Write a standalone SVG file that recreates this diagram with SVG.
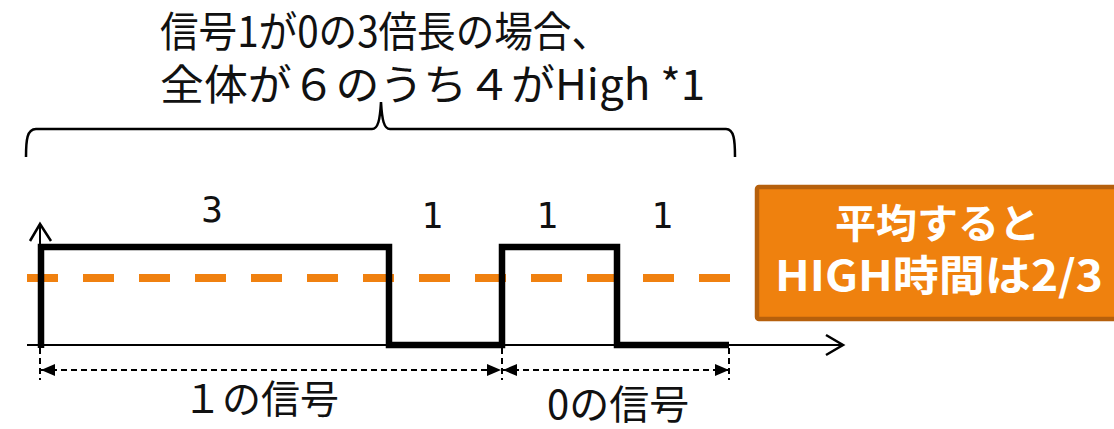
<svg xmlns="http://www.w3.org/2000/svg" width="1114" height="429" viewBox="0 0 1114 429">
<defs>
<style>
.jp{font-family:"Noto Sans CJK JP","Noto Sans",sans-serif;fill:#111;}
.num{font-family:"DejaVu Sans Mono","Liberation Mono",monospace;font-size:36px;fill:#111;text-anchor:middle;}
.wt{font-family:"Noto Sans CJK JP","Noto Sans",sans-serif;font-weight:bold;fill:#fff;}
.dim{stroke:#000;stroke-width:2;stroke-dasharray:6 4;fill:none;}
</style>
<marker id="fa" viewBox="0 0 14 12" refX="14" refY="6" markerWidth="14" markerHeight="12" markerUnits="userSpaceOnUse" orient="auto-start-reverse">
<path d="M0,0 L14,6 L0,12 Z" fill="#000"/>
</marker>
</defs>
<rect width="1114" height="429" fill="#fff"/>
<g id="title">
<text class="jp" x="160" y="47" font-size="42" textLength="450" lengthAdjust="spacingAndGlyphs">信号1が0の3倍長の場合、</text>
<text class="jp" x="160" y="100" font-size="42" textLength="545" lengthAdjust="spacingAndGlyphs">全体が６のうち４がHigh *1</text>
</g>
<g id="brace">
<path d="M26,157 C26,140 27,129 36,129 H372 C378,129 380,120 381,102 C382,120 384,129 390,129 H726 C734,129 735,140 735,157" fill="none" stroke="#000" stroke-width="2.5"/>
</g>
<g id="axes">
<line x1="27" y1="345" x2="842" y2="345" stroke="#000" stroke-width="2"/>
<path d="M826,335 L843,345 L826,355" fill="none" stroke="#000" stroke-width="2.5"/>
<line x1="40" y1="345" x2="40" y2="224" stroke="#000" stroke-width="2"/>
<path d="M30,241 L40,224 L51,241" fill="none" stroke="#000" stroke-width="2.5"/>
</g>
<g id="average-line">
<line x1="27" y1="278" x2="790" y2="278" stroke="#F08110" stroke-width="8" stroke-dasharray="31 25"/>
</g>
<g id="waveform">
<path d="M41,348 V247 H389 V345 H502 V247 H617 V345 H729" fill="none" stroke="#000" stroke-width="6.5" stroke-linejoin="miter"/>
</g>
<g id="labels">
<text class="num" x="212" y="222">3</text>
<text class="num" x="432" y="228">1</text>
<text class="num" x="547" y="228">1</text>
<text class="num" x="662" y="228">1</text>
</g>
<g id="connectors">
<line class="dim" x1="40" y1="348" x2="40" y2="380"/>
<line class="dim" x1="502" y1="348" x2="502" y2="380"/>
<line class="dim" x1="729" y1="348" x2="729" y2="380"/>
<line class="dim" x1="41" y1="370" x2="501" y2="370" marker-start="url(#fa)" marker-end="url(#fa)"/>
<line class="dim" x1="503" y1="370" x2="729" y2="370" marker-start="url(#fa)" marker-end="url(#fa)"/>
</g>
<g id="signal-labels">
<text class="jp" x="183" y="413" font-size="39">１の信号</text>
<text class="jp" x="547" y="419" font-size="40">0の信号</text>
</g>
<g id="result-box">
<rect x="757" y="187" width="400" height="132" rx="2" fill="#EF810E" stroke="#B6600C" stroke-width="4.5"/>
<text class="wt" x="835" y="238" font-size="40" textLength="205" lengthAdjust="spacingAndGlyphs">平均すると</text>
<text class="wt" x="775" y="291" font-size="42" textLength="328" lengthAdjust="spacingAndGlyphs">HIGH時間は2/3</text>
</g>
</svg>
